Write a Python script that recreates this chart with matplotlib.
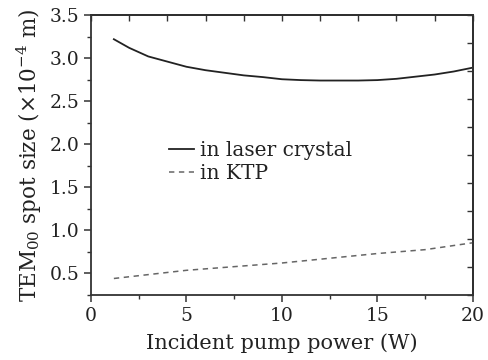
import numpy as np
import matplotlib
matplotlib.use("Agg")
from matplotlib import pyplot as plt

plt.rcParams['font.family'] = ['DejaVu Serif']
plt.rcParams['mathtext.fontset'] = 'dejavuserif'

# in laser crystal
x_crystal = [1.2, 2, 3, 4, 5, 6, 7, 8, 9, 10, 11, 12, 13, 14, 15, 16, 17, 18, 19, 20]
y_crystal = [3.22, 3.12, 3.02, 2.96, 2.90, 2.86, 2.83, 2.80, 2.78, 2.755, 2.745, 2.74,
             2.74, 2.74, 2.745, 2.76, 2.785, 2.81, 2.845, 2.89]

# in KTP
x_ktp = [1.2, 5, 10, 15, 17.5, 20]
y_ktp = [0.44, 0.535, 0.62, 0.73, 0.775, 0.855]

xticks = [0, 5, 10, 15, 20]
yticks = [0.5, 1.0, 1.5, 2.0, 2.5, 3.0, 3.5]

fig = plt.figure(figsize=(4.89, 3.60), dpi=100)
ax = fig.add_axes([0.186, 0.181, 0.781, 0.777])

ax.plot(x_crystal, y_crystal, color='#222222', lw=1.3, label='in laser crystal')
ax.plot(x_ktp, y_ktp, color='#666666', lw=1.1, dashes=(3.5, 3), label='in KTP')

ax.set_xlim(0, 20)
ax.set_ylim(0.25, 3.5)
ax.set_xticks(xticks)
ax.set_xticks(np.arange(0, 20.1, 2.5), minor=True)
ax.set_yticks(yticks)
ax.set_yticks(np.arange(0.25, 3.51, 0.25), minor=True)
ax.set_yticklabels(['%.1f' % v for v in yticks])
ax.tick_params(axis='both', which='major', direction='out', length=5, width=1.1,
               labelsize=13.5, colors='#333333', labelcolor='#222222')
ax.tick_params(axis='both', which='minor', direction='out', length=3, width=1.0,
               colors='#333333')
for s in ax.spines.values():
    s.set_linewidth(1.3)
    s.set_color('#333333')

# top and right inward ticks
axt = ax.secondary_xaxis('top')
axt.set_xticks(np.linspace(0, 20, 11))
axt.set_xticklabels([])
axt.tick_params(direction='in', length=4, width=1.0, colors='#333333')
axt.spines['top'].set_linewidth(1.3)
axr = ax.secondary_yaxis('right')
axr.set_yticks(np.linspace(0.25, 3.5, 11))
axr.set_yticklabels([])
axr.tick_params(direction='in', length=4, width=1.0, colors='#333333')
axr.spines['right'].set_linewidth(1.3)

ax.set_xlabel('Incident pump power (W)', fontsize=15, color='#222222', labelpad=6)
ax.set_ylabel(r'TEM$_{00}$ spot size ($\times10^{-4}$ m)', fontsize=15.5,
              color='#222222', labelpad=4)

leg = ax.legend(loc='center left', bbox_to_anchor=(0.205, 0.474), frameon=False,
                fontsize=14.5, handlelength=1.25, handletextpad=0.3,
                labelspacing=0.2, borderaxespad=0, borderpad=0)
for t in leg.get_texts():
    t.set_color('#222222')

fig.savefig('out.png', dpi=100)
